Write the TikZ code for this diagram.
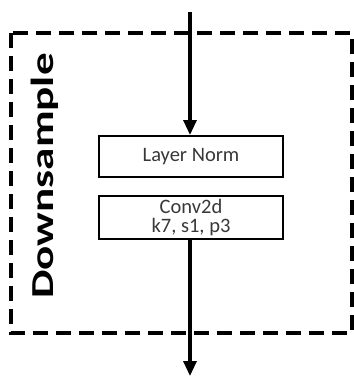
\documentclass[tikz,border=0pt]{standalone}
\usepackage{fontspec}
\setmainfont{Carlito}
\usetikzlibrary{arrows.meta}
\begin{document}
\begin{tikzpicture}[x=1pt,y=-1pt,
  blk/.style={draw=black,line width=2pt,minimum width=184pt,inner sep=0pt,align=center,text=black!78,font=\fontsize{20.5}{20}\selectfont},
  flow/.style={line width=3.2pt,-{Triangle[length=15pt,width=13pt]}},
  grp/.style={draw=black,line width=4pt,dash pattern=on 15pt off 8pt}]
\useasboundingbox (0,0) rectangle (354,376);
\draw[grp] (11,33) rectangle (352,333);
\node[blk,minimum height=41pt] (ln) at (191,156.5) {Layer Norm};
\node[blk,minimum height=43pt] (cv) at (191,217.5) {Conv2d\\[-0.5pt]k7, s1, p3};
\coordinate (top) at (190,12);
\coordinate (bot) at (190,376);
\draw[flow] (top) -- (top |- ln.north);
\draw[flow] (top |- cv.south) -- (bot);
\node[rotate=90,anchor=base,inner sep=0pt,font=\bfseries\fontsize{32}{32}\selectfont] (lbl) at (53,176) {\scalebox{1.41}[1]{Downsample}};
\end{tikzpicture}
\end{document}
